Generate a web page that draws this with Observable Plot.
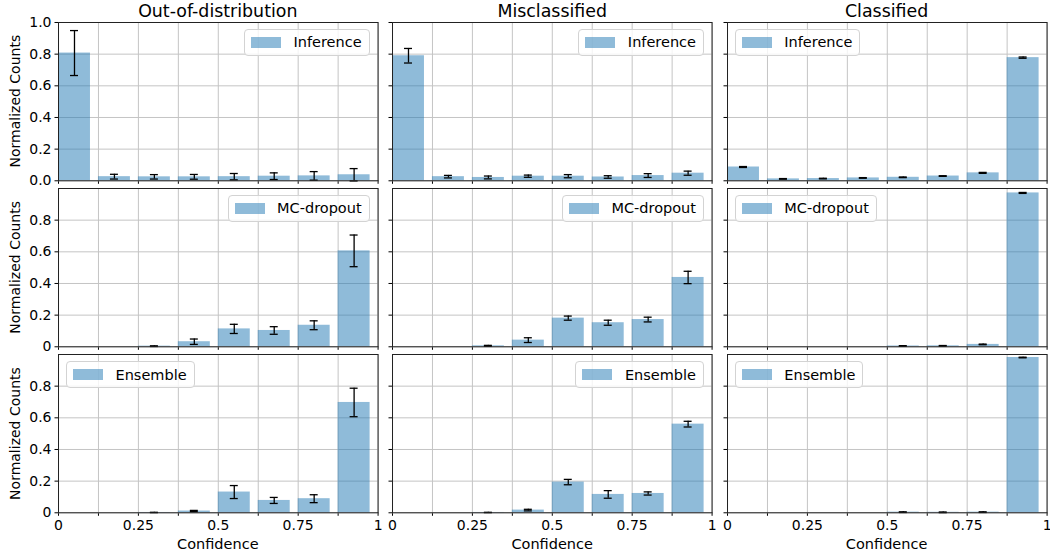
<!DOCTYPE html>
<html>
<head>
<meta charset="utf-8">
<script src="https://cdn.jsdelivr.net/npm/d3@7"></script>
<script src="https://cdn.jsdelivr.net/npm/@observablehq/plot@0.6"></script>
<style>
  body { margin: 0; background: #fff; }
  #root { position: relative; width: 1050px; height: 554px; font-family: "DejaVu Sans", sans-serif; overflow: hidden; }
  .panel { position: absolute; }
  .legend { position: absolute; box-sizing: border-box; height: 26.5px; display: flex; align-items: center;
            padding: 0 7px 0 6px; border: 1px solid #d3d3d3; border-radius: 4px; background: rgba(255,255,255,0.8);
            font-size: 14.5px; color: #000; white-space: nowrap; }
  .legend .sw { display: inline-block; width: 30px; height: 10.5px; background: rgba(31,119,180,0.5); margin-right: 12.5px; }
  #overlay { position: absolute; left: 0; top: 0; pointer-events: none; }
</style>
</head>
<body>
<div id="root"></div>
<script>
// ---------------- data ----------------
const columns = ["Out-of-distribution", "Misclassified", "Classified"];
const methods = ["Inference", "MC-dropout", "Ensemble"];
const binLeft = [0, 0.125, 0.25, 0.375, 0.5, 0.625, 0.75, 0.875];
const xTickValues = [0, 0.125, 0.25, 0.375, 0.5, 0.625, 0.75, 0.875, 1];
const xTickLabels = ["0", "", "0.25", "", "0.5", "", "0.75", "", "1"];
const yTickValuesTop = [0, 0.2, 0.4, 0.6, 0.8, 1];
const yTickLabelsTop = ["0.0", "0.2", "0.4", "0.6", "0.8", "1.0"];
const yTickValues = [0, 0.2, 0.4, 0.6, 0.8];
const yTickLabels = ["0", "0.2", "0.4", "0.6", "0.8"];

const oodInference    = [0.807, 0.026, 0.025, 0.025, 0.026, 0.029, 0.031, 0.038];
const oodInferenceErr = [0.142, 0.015, 0.014, 0.015, 0.020, 0.021, 0.027, 0.039];
const misInference    = [0.790, 0.026, 0.021, 0.029, 0.029, 0.024, 0.033, 0.048];
const misInferenceErr = [0.046, 0.008, 0.009, 0.007, 0.010, 0.008, 0.012, 0.013];
const clsInference    = [0.087, 0.012, 0.014, 0.018, 0.022, 0.030, 0.050, 0.778];
const clsInferenceErr = [0.003, 0.002, 0.002, 0.002, 0.002, 0.002, 0.003, 0.004];

const oodMC    = [0.0, 0.0, 0.004, 0.032, 0.113, 0.103, 0.136, 0.606];
const oodMCErr = [0.0, 0.0, 0.002, 0.017, 0.029, 0.024, 0.028, 0.100];
const misMC    = [0.0, 0.0, 0.006, 0.042, 0.181, 0.152, 0.172, 0.438];
const misMCErr = [0.0, 0.0, 0.003, 0.015, 0.013, 0.016, 0.015, 0.039];
const clsMC    = [0.0, 0.0, 0.0, 0.0, 0.005, 0.006, 0.015, 0.972];
const clsMCErr = [0.0, 0.0, 0.0, 0.0, 0.002, 0.002, 0.002, 0.003];

const oodEns    = [0.0, 0.0, 0.002, 0.011, 0.131, 0.078, 0.089, 0.697];
const oodEnsErr = [0.0, 0.0, 0.001, 0.004, 0.041, 0.019, 0.025, 0.090];
const misEns    = [0.0, 0.0, 0.002, 0.017, 0.194, 0.116, 0.122, 0.560];
const misEnsErr = [0.0, 0.0, 0.001, 0.005, 0.017, 0.024, 0.010, 0.018];
const clsEns    = [0.0, 0.0, 0.0, 0.0, 0.004, 0.003, 0.004, 0.981];
const clsEnsErr = [0.0, 0.0, 0.0, 0.0, 0.002, 0.002, 0.002, 0.002];

const series = [
  [[oodInference, oodInferenceErr], [misInference, misInferenceErr], [clsInference, clsInferenceErr]],
  [[oodMC, oodMCErr], [misMC, misMCErr], [clsMC, clsMCErr]],
  [[oodEns, oodEnsErr], [misEns, misEnsErr], [clsEns, clsEnsErr]]
];
// legend side per [row][col]
const legendSide = [["right", "right", "left"], ["right", "right", "left"], ["left", "right", "left"]];

// ---------------- layout ----------------
const colLeft = [58, 392.4, 726.8];
const rowTop = [22, 188.2, 354.4];
const panelW = 319.6, panelH = 158.3;
const mL = 50, mR = 10, mT = 10, mB = 30;
const barWidth = 0.1;
const capHalf = 4 / panelW;
const barColor = "#1f77b4";
const gridColor = "#c4c4c4";

const root = document.getElementById("root");

for (let r = 0; r < 3; r++) {
  for (let c = 0; c < 3; c++) {
    const [vals, errs] = series[r][c];
    const rows = binLeft.map((b, i) => ({x1: b, x2: b + barWidth, c: b + barWidth / 2, v: vals[i], e: errs[i]}));
    const errRows = rows.filter(d => d.e > 0);
    const yVals = r === 0 ? yTickValuesTop : yTickValues;
    const yLabs = r === 0 ? yTickLabelsTop : yTickLabels;
    const chart = Plot.plot({
      width: mL + panelW + mR,
      height: mT + panelH + mB,
      marginLeft: mL, marginRight: mR, marginTop: mT, marginBottom: mB,
      style: {background: "transparent", overflow: "visible", fontSize: "14px", fontFamily: "DejaVu Sans, sans-serif", color: "#000"},
      x: {
        domain: [0, 1], ticks: xTickValues, tickSize: 3.5, tickPadding: 3.5, label: null,
        tickFormat: v => (r === 2 ? xTickLabels[xTickValues.indexOf(v)] ?? "" : "")
      },
      y: {
        domain: [0, 1], ticks: yVals, tickSize: 3.5, tickPadding: 3.5, label: null,
        tickFormat: v => (c === 0 ? yLabs[yVals.indexOf(v)] ?? "" : "")
      },
      marks: [
        Plot.ruleX(xTickValues, {x: d => d, stroke: gridColor, strokeWidth: 1}),
        Plot.ruleY(yTickValuesTop, {y: d => d, stroke: gridColor, strokeWidth: 1}),
        Plot.rect(rows, {x1: "x1", x2: "x2", y1: () => 0, y2: "v", fill: barColor, fillOpacity: 0.5}),
        Plot.ruleX(errRows, {x: "c", y1: d => d.v - d.e, y2: d => d.v + d.e, stroke: "#000", strokeWidth: 1.3}),
        Plot.ruleY(errRows, {y: d => d.v + d.e, x1: d => d.c - capHalf, x2: d => d.c + capHalf, stroke: "#000", strokeWidth: 1.3}),
        Plot.ruleY(errRows, {y: d => d.v - d.e, x1: d => d.c - capHalf, x2: d => d.c + capHalf, stroke: "#000", strokeWidth: 1.3}),
        Plot.frame({stroke: "#222", strokeWidth: 1})
      ]
    });
    chart.classList.add("panel");
    chart.style.left = (colLeft[c] - mL) + "px";
    chart.style.top = (rowTop[r] - mT) + "px";
    root.appendChild(chart);

    // legend
    const lg = document.createElement("div");
    lg.className = "legend";
    lg.innerHTML = `<span class="sw"></span><span>${methods[r]}</span>`;
    lg.style.top = (rowTop[r] + 7) + "px";
    if (legendSide[r][c] === "right") lg.style.right = (1050 - (colLeft[c] + panelW - 8)) + "px";
    else lg.style.left = (colLeft[c] + 8) + "px";
    root.appendChild(lg);
  }
}

// titles and axis labels
const ov = d3.select(root).append("svg").attr("id", "overlay").attr("width", 1050).attr("height", 554)
  .style("font-family", "DejaVu Sans, sans-serif");
columns.forEach((t, c) => {
  ov.append("text").attr("x", colLeft[c] + panelW / 2).attr("y", 16.8).attr("text-anchor", "middle")
    .attr("font-size", 17.4).attr("fill", "#000").text(t);
  ov.append("text").attr("x", colLeft[c] + panelW / 2).attr("y", 549).attr("text-anchor", "middle")
    .attr("font-size", 14.5).attr("fill", "#000").text("Confidence");
});
rowTop.forEach((t, r) => {
  const cy = t + panelH / 2;
  ov.append("text").attr("transform", `translate(20,${cy}) rotate(-90)`).attr("text-anchor", "middle")
    .attr("font-size", 14).attr("fill", "#000").text("Normalized Counts");
});
</script>
</body>
</html>
